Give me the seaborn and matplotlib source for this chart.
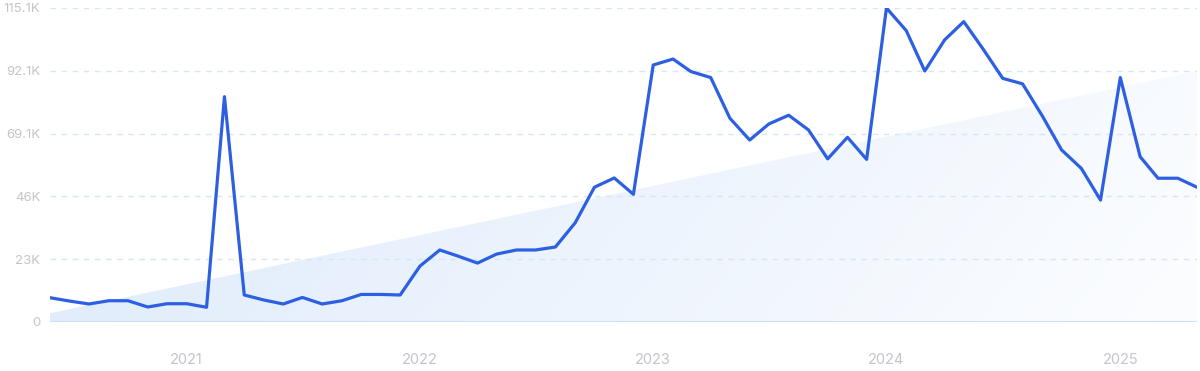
import numpy as np
import pandas as pd
import matplotlib
matplotlib.use("Agg")
import matplotlib.pyplot as plt
import matplotlib.dates as mdates
from matplotlib.patches import Polygon
import seaborn as sns

# ---- data ----
months = pd.date_range("2020-06-01", "2025-05-01", freq="MS")
values = [8.9, 7.7, 6.6, 7.8, 7.8, 5.5, 6.7, 6.7, 5.4, 82.6,
          9.9, 8.1, 6.6, 9.0, 6.6, 7.8, 10.1, 10.1, 9.9, 20.5,
          26.4, 24.2, 21.6, 24.9, 26.4, 26.4, 27.5, 36.4, 49.4, 52.8,
          46.8, 94.2, 96.4, 91.8, 89.6, 74.7, 66.7, 72.6, 75.8, 70.4,
          59.8, 67.7, 59.6, 115.1, 106.8, 92.0, 103.4, 110.1, 99.8, 89.3,
          87.3, 75.5, 63.1, 56.3, 44.7, 89.6, 60.6, 52.7, 52.7, 49.4]
values = [v * 1000 for v in values]
trend_start = 3200
trend_end = 92000
ytick_values = [0, 23020, 46040, 69060, 92080, 115100]
ytick_labels = ["0", "23K", "46K", "69.1K", "92.1K", "115.1K"]
xtick_years = ["2021", "2022", "2023", "2024", "2025"]

df = pd.DataFrame({"month": months, "value": values})

sns.set_theme(style="white")
plt.rcParams["font.family"] = ["Inter", "DejaVu Sans"]

fig = plt.figure(figsize=(12, 3.71), dpi=100)
ax = fig.add_axes([50 / 1200, 1 - 322 / 371, 1147 / 1200, 314 / 371])

x0 = mdates.date2num(months[0])
x1 = mdates.date2num(months[-1])
ax.set_xlim(x0, x1)
ax.set_ylim(0, 115100)

# gradient trend area
poly = Polygon([[x0, 0], [x0, trend_start], [x1, trend_end], [x1, 0]],
               closed=True, facecolor="none", edgecolor="none")
ax.add_patch(poly)
nx, ny = 300, 100
gx = np.linspace(0, 1, nx)[None, :]
gy = np.linspace(0, 1, ny)[:, None]
t = np.clip(0.88 * gx + 0.15 * (1 - gy) - 0.03, 0, 1)  # 0 -> blue, 1 -> white
c_blue = np.array([222, 235, 251]) / 255
c_white = np.array([252, 253, 255]) / 255
img = c_blue[None, None, :] * (1 - t[..., None]) + c_white[None, None, :] * t[..., None]
im = ax.imshow(img, extent=[x0, x1, 0, trend_end], origin="lower",
               aspect="auto", zorder=1, interpolation="bilinear")
im.set_clip_path(poly)

# grid
for yv in ytick_values[1:]:
    ax.axhline(yv, color="#d6e5f7", lw=1.0, ls=(0, (4, 4)), zorder=1.5)
ax.axhline(0, color="#c9e2fb", lw=1.5, zorder=2)

sns.lineplot(data=df, x="month", y="value", ax=ax, color="#2d5fe2",
             lw=2.3, zorder=3)

ax.set_yticks(ytick_values)
ax.set_yticklabels(ytick_labels)
ax.set_xticks([mdates.date2num(pd.Timestamp(f"{y}-01-01")) for y in xtick_years])
ax.set_xticklabels(xtick_years)
ax.tick_params(axis="y", length=0, pad=7, labelsize=9.5, labelcolor="#c4c4cc")
ax.tick_params(axis="x", length=0, pad=22, labelsize=10.5, labelcolor="#c4c4cc")
ax.set_xlabel("")
ax.set_ylabel("")
for s in ax.spines.values():
    s.set_visible(False)

fig.savefig("out.png", dpi=100, facecolor="white")
